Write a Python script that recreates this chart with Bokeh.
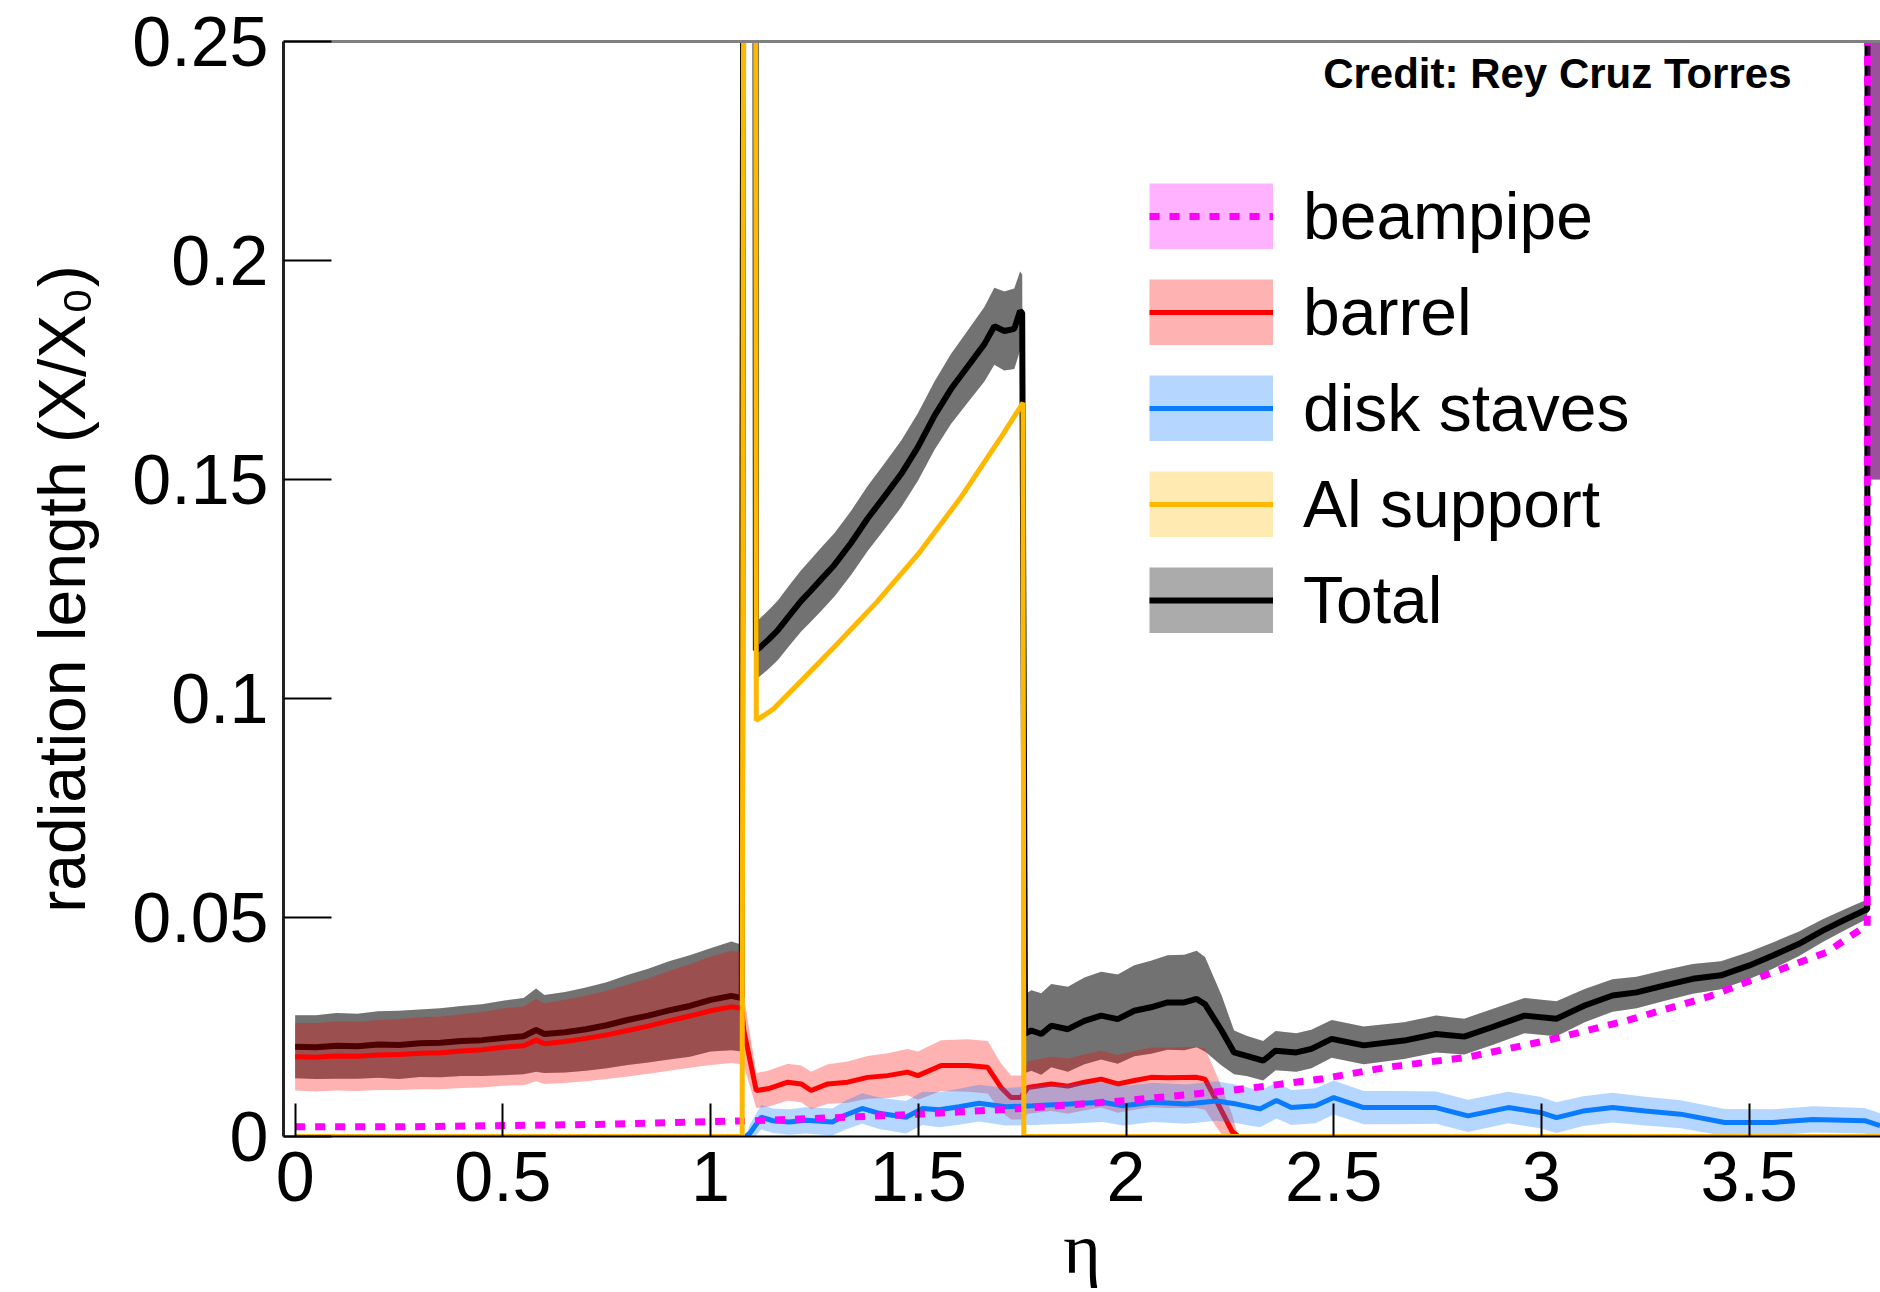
import numpy as np
from bokeh.plotting import figure
from bokeh.models import (Range1d, FixedTicker, NumeralTickFormatter, LinearAxis,
                          Legend, LegendItem, Label)
from bokeh.embed import file_html
from bokeh.resources import INLINE

# ---------------- material budget vs pseudorapidity ----------------
# Total
eta_total = [0.0, 0.05, 0.1, 0.15, 0.2, 0.25, 0.3, 0.35, 0.4, 0.45, 0.5, 0.55, 0.58, 0.6,
             0.65, 0.7, 0.75, 0.8, 0.85, 0.9, 0.95, 1.0, 1.05, 1.075,
             1.079, 1.108,
             1.109, 1.118, 1.14, 1.162, 1.19, 1.218, 1.24, 1.266, 1.298, 1.338, 1.378,
             1.419, 1.459, 1.499, 1.539, 1.579, 1.619, 1.659, 1.683, 1.707, 1.731,
             1.745, 1.75,
             1.757, 1.772, 1.796, 1.82, 1.86, 1.9, 1.94, 1.98, 2.02, 2.06, 2.1, 2.14,
             2.17, 2.19, 2.23, 2.26, 2.29, 2.33, 2.36, 2.41, 2.446, 2.495, 2.572,
             2.669, 2.746, 2.814, 2.882, 2.959, 3.036, 3.104, 3.171, 3.229, 3.297,
             3.364, 3.432, 3.499, 3.557, 3.62, 3.677, 3.73, 3.777, 3.784, 3.786, 3.82]
total = [0.0205, 0.0204, 0.0207, 0.0206, 0.0210, 0.0209, 0.0213, 0.0214, 0.0218, 0.0220,
         0.0225, 0.0229, 0.0243, 0.0234, 0.0238, 0.0245, 0.0254, 0.0266, 0.0276, 0.0288,
         0.0298, 0.0312, 0.0321, 0.0316,
         0.30, 0.30,
         0.111, 0.1116, 0.1135, 0.1156, 0.119, 0.1223, 0.1245, 0.1272, 0.1305, 0.1355,
         0.1411, 0.1462, 0.1513, 0.1574, 0.1646, 0.1707, 0.1758, 0.1809, 0.185, 0.1839,
         0.1844, 0.1885, 0.188,
         0.0235, 0.0242, 0.0234, 0.0253, 0.0245, 0.0264, 0.0276, 0.0268, 0.0287, 0.0295,
         0.0306, 0.0306, 0.0314, 0.0302, 0.0242, 0.0192, 0.0184, 0.0173, 0.0196, 0.0192,
         0.0200, 0.0223, 0.0208, 0.0219, 0.0234, 0.0228, 0.0250, 0.0276, 0.0269, 0.0299,
         0.0322, 0.0329, 0.0345, 0.0360, 0.0368, 0.0390, 0.0413, 0.0440, 0.0470, 0.0495,
         0.0516, 0.0518, 0.60, 0.60]
total_err = [0.0072, 0.0073, 0.0075, 0.0074, 0.0076, 0.0078, 0.0077, 0.0079, 0.0080, 0.0082,
             0.0085, 0.0087, 0.0095, 0.0089, 0.0092, 0.0095, 0.0098, 0.0103, 0.0107, 0.0112,
             0.0116, 0.0118, 0.0124, 0.0122,
             0.0, 0.0,
             0.0065, 0.0066, 0.0067, 0.0068, 0.0069, 0.0070, 0.0071, 0.0072, 0.0072, 0.0073,
             0.0074, 0.0075, 0.0076, 0.0077, 0.0078, 0.0080, 0.0082, 0.0085, 0.0088, 0.0090,
             0.0092, 0.0090, 0.0088,
             0.0090, 0.0092, 0.0093, 0.0095, 0.0097, 0.0099, 0.0100, 0.0102, 0.0104, 0.0106,
             0.0108, 0.0109, 0.0110, 0.0108, 0.0080, 0.0050, 0.0046, 0.0045, 0.0045, 0.0044,
             0.0044, 0.0043, 0.0043, 0.0042, 0.0042, 0.0041, 0.0041, 0.0040, 0.0040, 0.0038,
             0.0037, 0.0036, 0.0035, 0.0034, 0.0032, 0.0031, 0.0030, 0.0028, 0.0026, 0.0024,
             0.0022, 0.0022, 0.45, 0.45]

# Barrel layers
eta_barrel = [0.0, 0.05, 0.1, 0.15, 0.2, 0.25, 0.3, 0.35, 0.4, 0.45, 0.5, 0.55, 0.58, 0.6,
              0.65, 0.7, 0.75, 0.8, 0.85, 0.9, 0.95, 1.0, 1.05, 1.075,
              1.08, 1.11, 1.138, 1.186, 1.218, 1.242, 1.282, 1.33, 1.378, 1.426, 1.474,
              1.499, 1.555, 1.619, 1.667, 1.699, 1.723, 1.747, 1.764, 1.82, 1.86, 1.9,
              1.94, 1.98, 2.02, 2.06, 2.1, 2.17, 2.19, 2.218, 2.255, 2.27, 3.82]
barrel = [0.0182, 0.0181, 0.0184, 0.0183, 0.0186, 0.0187, 0.0190, 0.0191, 0.0195, 0.0198,
          0.0204, 0.0207, 0.0220, 0.0212, 0.0217, 0.0224, 0.0232, 0.0242, 0.0252, 0.0264,
          0.0275, 0.0287, 0.0296, 0.0293,
          0.0242, 0.0105, 0.0109, 0.0124, 0.0120, 0.0105, 0.0120, 0.0124, 0.0135, 0.0139,
          0.0147, 0.0139, 0.0162, 0.0162, 0.0158, 0.0112, 0.0089, 0.0089, 0.0112, 0.0120,
          0.0115, 0.0124, 0.0131, 0.0120, 0.0128, 0.0135, 0.0134, 0.0135, 0.0131, 0.0081,
          0.0012, 0.0, 0.0]
barrel_err = [0.0077, 0.0078, 0.0079, 0.0079, 0.0080, 0.0081, 0.0082, 0.0083, 0.0084, 0.0086,
              0.0088, 0.0090, 0.0094, 0.0092, 0.0095, 0.0098, 0.0101, 0.0105, 0.0109, 0.0114,
              0.0118, 0.0124, 0.0128, 0.0128,
              0.0080, 0.0040, 0.0041, 0.0042, 0.0042, 0.0043, 0.0045, 0.0047, 0.0049, 0.0051,
              0.0053, 0.0055, 0.0058, 0.0060, 0.0060, 0.0055, 0.0050, 0.0050, 0.0060, 0.0062,
              0.0063, 0.0064, 0.0065, 0.0066, 0.0067, 0.0068, 0.0069, 0.0070, 0.0070, 0.0060,
              0.0040, 0.0, 0.0]

# Disk staves
eta_disk = [1.085, 1.095, 1.122, 1.15, 1.189, 1.229, 1.293, 1.325, 1.365, 1.406, 1.47, 1.51,
            1.55, 1.598, 1.646, 1.71, 1.775, 1.864, 1.944, 1.993, 2.065, 2.145, 2.218, 2.266,
            2.322, 2.362, 2.398, 2.456, 2.5, 2.572, 2.65, 2.746, 2.823, 2.92, 2.997, 3.036,
            3.1, 3.171, 3.25, 3.335, 3.441, 3.557, 3.653, 3.778, 3.815]
disk = [0.0, 0.0008, 0.0044, 0.0036, 0.0033, 0.0037, 0.0033, 0.0049, 0.0064, 0.0053, 0.0044,
        0.0064, 0.0061, 0.0068, 0.0076, 0.0068, 0.0070, 0.0074, 0.0078, 0.0070, 0.0078,
        0.0074, 0.0081, 0.0074, 0.0063, 0.0082, 0.0066, 0.0070, 0.0089, 0.0066, 0.0066,
        0.0066, 0.0047, 0.0066, 0.0055, 0.0043, 0.0058, 0.0066, 0.0058, 0.0051, 0.0032,
        0.0032, 0.0039, 0.0036, 0.0025]
disk_err = [0.0, 0.0020, 0.0028, 0.0028, 0.0029, 0.0030, 0.0031, 0.0033, 0.0035, 0.0036,
            0.0037, 0.0038, 0.0040, 0.0041, 0.0042, 0.0043, 0.0044, 0.0045, 0.0045, 0.0045,
            0.0045, 0.0045, 0.0045, 0.0044, 0.0042, 0.0041, 0.0040, 0.0040, 0.0039, 0.0038,
            0.0038, 0.0037, 0.0037, 0.0036, 0.0036, 0.0035, 0.0034, 0.0034, 0.0033, 0.0032,
            0.0031, 0.0030, 0.0030, 0.0029, 0.0028]

# Beampipe
eta_beampipe = [0.0, 0.25, 0.5, 0.75, 1.0, 1.1, 1.25, 1.5, 1.75, 2.0, 2.25, 2.32, 2.474,
                2.628, 2.821, 3.013, 3.206, 3.398, 3.591, 3.687, 3.77, 3.784, 3.786, 3.82]
beampipe = [0.0022, 0.0022, 0.0025, 0.0028, 0.0034, 0.0036, 0.0041, 0.0051, 0.0064, 0.0082,
            0.0105, 0.0113, 0.0132, 0.0158, 0.0181, 0.0219, 0.0265, 0.0318, 0.0387, 0.0421,
            0.0474, 0.0478, 0.60, 0.60]
beampipe_err = [0.0] * 22 + [0.45, 0.45]

# Aluminium support
eta_al = [0.0, 1.076, 1.080, 1.108, 1.110, 1.15, 1.2, 1.3, 1.4, 1.5, 1.6, 1.7, 1.752, 1.754, 3.82]
al_support = [0.0, 0.0, 0.30, 0.30, 0.095, 0.0975, 0.1023, 0.112, 0.122, 0.133, 0.1456,
              0.1598, 0.1675, 0.0, 0.0]

x_ticks = [0, 0.5, 1, 1.5, 2, 2.5, 3, 3.5]
y_ticks = [0, 0.05, 0.1, 0.15, 0.2, 0.25]

FONT = "Liberation Sans"
MAGENTA = "#ff00ff"
RED = "#ff0000"
BLUE = "#0a7bff"
ORANGE = "#ffb800"


def band(v, e):
    v = np.asarray(v)
    e = np.asarray(e)
    return v - e, v + e


p = figure(width=1880, height=1292, output_backend="svg", toolbar_location=None,
           x_range=Range1d(-0.028, 3.816), y_range=Range1d(0, 0.25),
           min_border_left=283, min_border_right=0, min_border_top=41,
           min_border_bottom=156)
p.grid.visible = False
p.outline_line_color = None
p.background_fill_color = "white"
p.border_fill_color = "white"

# total: band drawn twice for the darker overlay
lo, hi = band(total, total_err)
p.varea(x=eta_total, y1=lo, y2=hi, fill_color="black", fill_alpha=0.33)
p.varea(x=eta_total, y1=lo, y2=hi, fill_color="black", fill_alpha=0.33)
tl = p.line(eta_total, total, line_color="black", line_width=6)

lo, hi = band(barrel, barrel_err)
p.varea(x=eta_barrel, y1=lo, y2=hi, fill_color=RED, fill_alpha=0.3)
bl = p.line(eta_barrel, barrel, line_color=RED, line_width=5)

lo, hi = band(disk, disk_err)
p.varea(x=eta_disk, y1=lo, y2=hi, fill_color=BLUE, fill_alpha=0.3)
dl = p.line(eta_disk, disk, line_color=BLUE, line_width=5)

lo, hi = band(beampipe, beampipe_err)
p.varea(x=eta_beampipe, y1=lo, y2=hi, fill_color=MAGENTA, fill_alpha=0.3)
pl = p.line(eta_beampipe, beampipe, line_color=MAGENTA, line_width=7, line_dash="10 10")

al = p.line(eta_al, al_support, line_color=ORANGE, line_width=5)


# legend swatches: shaded boxes behind each legend line (no points inside the frame)
def swatch(color, alpha):
    return p.line(x=[np.nan], y=[np.nan], line_color=color, line_alpha=alpha, line_width=66)


sw_bp = swatch(MAGENTA, 0.3)
sw_b = swatch(RED, 0.3)
sw_d = swatch(BLUE, 0.3)
sw_a = swatch(ORANGE, 0.3)
sw_t = swatch("black", 0.33)

# axes
xa = p.xaxis[0]
xa.ticker = FixedTicker(ticks=x_ticks)
xa.formatter = NumeralTickFormatter(format="0.[0]")
xa.major_tick_in = 33
xa.major_tick_out = 0
xa.minor_tick_line_color = None
xa.major_tick_line_width = 2
xa.axis_line_width = 2
xa.axis_line_color = "black"
xa.major_label_text_font = FONT
xa.major_label_text_font_size = "70px"
xa.major_label_text_color = "black"
xa.major_label_standoff = 15
xa.axis_label = "\u03b7"
xa.axis_label_text_font = "Liberation Serif"
xa.axis_label_text_font_size = "72px"
xa.axis_label_text_font_style = "normal"
xa.axis_label_text_color = "black"
xa.axis_label_standoff = 5

ya = p.yaxis[0]
ya.ticker = FixedTicker(ticks=y_ticks)
ya.formatter = NumeralTickFormatter(format="0.[00]")
ya.major_tick_in = 48
ya.major_tick_out = 0
ya.minor_tick_line_color = None
ya.major_tick_line_width = 2
ya.axis_line_width = 3
ya.axis_line_color = "#222222"
ya.major_label_text_font = FONT
ya.major_label_text_font_size = "70px"
ya.major_label_text_color = "black"
ya.major_label_standoff = 15
ya.axis_label = "radiation length (X/X\u2080)"
ya.axis_label_text_font = FONT
ya.axis_label_text_font_size = "66px"
ya.axis_label_text_font_style = "normal"
ya.axis_label_text_color = "black"
ya.axis_label_standoff = 30

top = LinearAxis(ticker=FixedTicker(ticks=[]), axis_line_color="#808080", axis_line_width=3,
                 major_tick_line_color=None, minor_tick_line_color=None)
p.add_layout(top, "above")

p.add_layout(Label(x=1508, y=1063, x_units="screen", y_units="screen",
                   text="Credit: Rey Cruz Torres", text_font=FONT, text_font_style="bold",
                   text_font_size="42px", text_align="right", text_baseline="alphabetic",
                   text_color="black"))

legend = Legend(items=[
    LegendItem(label="beampipe", renderers=[sw_bp, pl]),
    LegendItem(label="barrel", renderers=[sw_b, bl]),
    LegendItem(label="disk staves", renderers=[sw_d, dl]),
    LegendItem(label="Al support", renderers=[sw_a, al]),
    LegendItem(label="Total", renderers=[sw_t, tl]),
], location=(866, 498), glyph_width=124, glyph_height=66, spacing=20, label_standoff=30,
    label_text_font=FONT, label_text_font_size="66px", label_text_color="black",
    padding=0, margin=0, border_line_color=None, background_fill_alpha=0)
p.add_layout(legend)

open("out.html", "w").write(file_html(p, INLINE))
